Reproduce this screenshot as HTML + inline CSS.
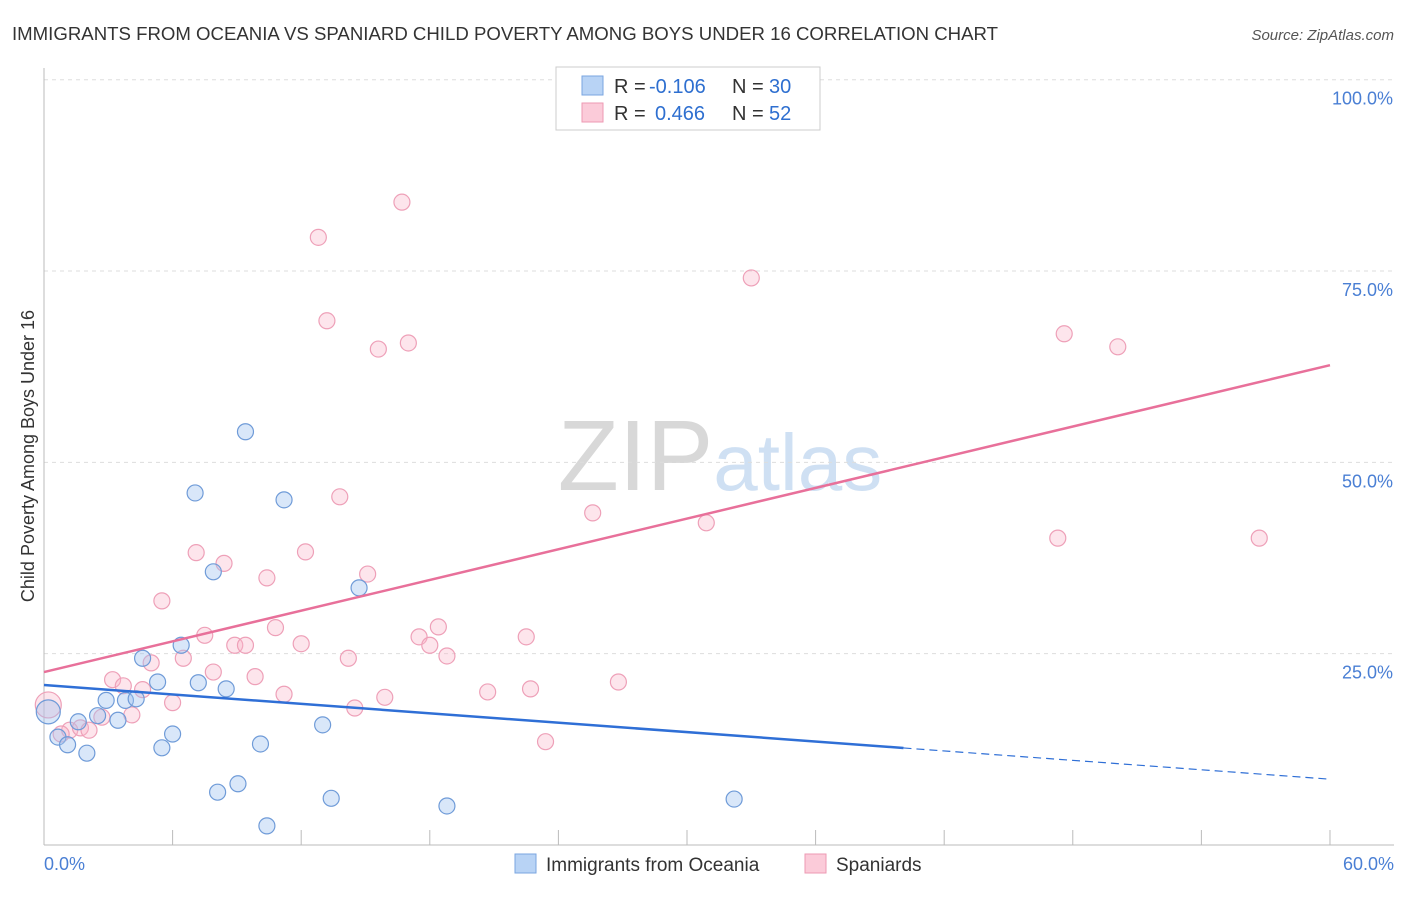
<!DOCTYPE html>
<html><head><meta charset="utf-8"><style>
body{margin:0;background:#fff;font-family:"Liberation Sans",sans-serif}
svg text{font-family:"Liberation Sans",sans-serif}
</style></head><body>
<svg width="1406" height="892" xmlns="http://www.w3.org/2000/svg">
<text x="12" y="40" font-size="18" fill="#333" textLength="986" lengthAdjust="spacingAndGlyphs">IMMIGRANTS FROM OCEANIA VS SPANIARD CHILD POVERTY AMONG BOYS UNDER 16 CORRELATION CHART</text>
<text x="1394" y="40" font-size="15" fill="#555" text-anchor="end" font-style="italic">Source: ZipAtlas.com</text>
<text x="720" y="490" font-size="100" fill="#ddd" text-anchor="middle" font-family="Liberation Serif"><tspan fill="#d8d8d8">ZIP</tspan><tspan fill="#cfe0f3" font-family="Liberation Sans" font-size="80">atlas</tspan></text>
<g id="grid"></g>
<line x1="44" y1="68" x2="44" y2="845" stroke="#bbb"/>
<line x1="44" y1="845" x2="1394" y2="845" stroke="#bbb"/>
<g id="xticks"></g>
<text x="44" y="870" font-size="18" fill="#4a7fd4">0.0%</text>
<text x="1394" y="870" font-size="18" fill="#4a7fd4" text-anchor="end">60.0%</text>
<text x="34" y="456" font-size="18" fill="#333" text-anchor="middle" transform="rotate(-90 34 456)">Child Poverty Among Boys Under 16</text>
<g id="pink"></g><g id="blue"></g><g id="lines"></g>
<g>
<rect x="556" y="67" width="264" height="63" fill="#fff" stroke="#ccc"/>
<rect x="582" y="76" width="21" height="19" fill="#b8d3f5" stroke="#7aa6e0"/>
<rect x="582" y="103" width="21" height="19" fill="#fbcbd9" stroke="#ee9ab3"/>
<text x="614" y="93" font-size="20" fill="#333">R =</text>
<text x="649" y="93" font-size="20" fill="#2e6fd0">-0.106</text>
<text x="732" y="93" font-size="20" fill="#333">N =</text>
<text x="769" y="93" font-size="20" fill="#2e6fd0">30</text>
<text x="614" y="120" font-size="20" fill="#333">R =</text>
<text x="655" y="120" font-size="20" fill="#2e6fd0">0.466</text>
<text x="732" y="120" font-size="20" fill="#333">N =</text>
<text x="769" y="120" font-size="20" fill="#2e6fd0">52</text>
</g>
<g>
<rect x="515" y="854" width="21" height="19" fill="#b8d3f5" stroke="#7aa6e0"/>
<text x="546" y="871" font-size="19" fill="#333">Immigrants from Oceania</text>
<rect x="805" y="854" width="21" height="19" fill="#fbcbd9" stroke="#ee9ab3"/>
<text x="836" y="871" font-size="19" fill="#333">Spaniards</text>
</g>
</svg>
<script>
const yTicks=[25,50,75,100];
const xTickVals=[0,6,12,18,24,30,36,42,48,54,60];
const blueX=[0.2,0.65,1.1,1.6,2.0,2.5,2.9,3.45,3.8,4.3,4.6,5.3,5.5,6.0,6.4,7.05,7.2,7.9,8.1,8.5,9.05,9.4,10.1,10.4,11.2,13.0,13.4,14.7,18.8,32.2];
const blueY=[17.4,14.1,13.1,16.1,12.0,16.9,18.9,16.3,18.9,19.1,24.4,21.3,12.7,14.5,26.1,46.0,21.2,35.7,6.9,20.4,8.0,54.0,13.2,2.5,45.1,15.7,6.1,33.6,5.1,6.0];
const pinkX=[0.2,1.2,1.7,2.1,2.7,3.2,3.7,4.1,4.6,5.0,5.5,6.0,6.5,7.1,7.5,7.9,8.4,8.9,9.4,9.85,10.4,10.8,11.2,12.0,12.2,12.8,13.2,13.8,14.2,14.5,15.1,15.6,15.9,16.7,17.0,17.5,18.0,18.4,18.8,20.7,22.5,22.7,23.4,25.6,26.8,30.9,33.0,47.3,47.6,50.1,56.7,0.8];
const pinkY=[18.3,15.0,15.3,15.0,16.7,21.6,20.8,17.0,20.3,23.8,31.9,18.6,24.4,38.2,27.4,22.6,36.8,26.1,26.1,22.0,34.9,28.4,19.7,26.3,38.3,79.4,68.5,45.5,24.4,17.9,35.4,64.8,19.3,84.0,65.6,27.2,26.1,28.5,24.7,20.0,27.2,20.4,13.5,43.4,21.3,42.1,74.1,40.1,66.8,65.1,40.1,14.5];
const pinkTrend=[22.6,62.7];
const blueTrend=[20.9,8.6];
const blueSolidEnd=40.1;
const X=v=>44+v*21.433, Y=v=>845-v*7.653;
const NS="http://www.w3.org/2000/svg";
function mk(t,a,p){const e=document.createElementNS(NS,t);for(const k in a)e.setAttribute(k,a[k]);document.getElementById(p).appendChild(e);return e;}
yTicks.forEach(t=>{
 const l=mk('line',{x1:44,x2:1394,y1:Y(t),y2:Y(t),stroke:'#ddd','stroke-dasharray':'4,4'},'grid');
 
 
 const tx=mk('text',{x:1393,y:Y(t)+25,'font-size':18,fill:'#4a7fd4','text-anchor':'end'},'grid');
 tx.textContent=t.toFixed(1)+'%';
 
 
});
xTickVals.forEach(t=>{
 const l=mk('line',{x1:X(t),x2:X(t),y1:830,y2:845,stroke:'#bbb'},'xticks');
 
 
});
pinkX.forEach((v,i)=>{
 const c=mk('circle',{cx:X(v),cy:Y(pinkY[i]),r:i==0?13:8,fill:'rgba(248,180,200,0.35)',stroke:'#eea0b8','stroke-width':1.2},'pink');
 
 
});
blueX.forEach((v,i)=>{
 const c=mk('circle',{cx:X(v),cy:Y(blueY[i]),r:i==0?12:8,fill:'rgba(160,196,240,0.4)',stroke:'#6f9bd8','stroke-width':1.2},'blue');
 
 
});
const pl=mk('line',{x1:X(0),y1:Y(pinkTrend[0]),x2:X(60),y2:Y(pinkTrend[1]),stroke:'#e8709a','stroke-width':2.5},'lines');


const bm=blueTrend[0]+(blueTrend[1]-blueTrend[0])*blueSolidEnd/60;
const bl=mk('line',{x1:X(0),y1:Y(blueTrend[0]),x2:X(blueSolidEnd),y2:Y(bm),stroke:'#2f6fd6','stroke-width':2.5},'lines');


const bd=mk('line',{x1:X(blueSolidEnd),y1:Y(bm),x2:X(60),y2:Y(blueTrend[1]),stroke:'#2f6fd6','stroke-width':1.2,'stroke-dasharray':'8,5'},'lines');


</script>
</body></html>
